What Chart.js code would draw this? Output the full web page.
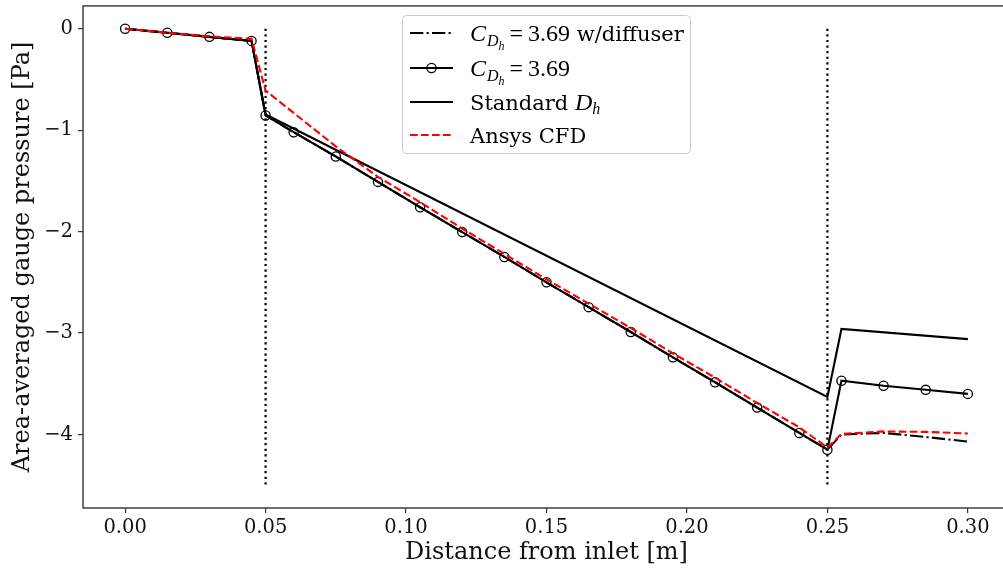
<!DOCTYPE html>
<html>
<head>
<meta charset="utf-8">
<script src="https://cdn.jsdelivr.net/npm/chart.js@4/dist/chart.umd.min.js"></script>
<style>
  html,body{margin:0;padding:0;background:#fff;overflow:hidden;width:1003px;height:571px;}
  #wrap{position:relative;width:1020px;height:571px;}
</style>
</head>
<body>
<div id="wrap"><canvas id="c" width="1020" height="571"></canvas></div>
<script>
/* ---------- data ---------- */
const xGrid   = [0,0.015,0.03,0.045,0.05,0.06,0.075,0.09,0.105,0.12,0.135,0.15,0.165,0.18,0.195,0.21,0.225,0.24,0.25,0.255,0.27,0.285,0.30];
const yCirc   = [0,-0.04,-0.08,-0.12,-0.855,-1.02,-1.26,-1.51,-1.76,-2.005,-2.25,-2.50,-2.745,-2.99,-3.24,-3.485,-3.735,-3.985,-4.15,-3.47,-3.52,-3.56,-3.60];
const yDiff   = [0,-0.04,-0.08,-0.12,-0.855,-1.02,-1.26,-1.51,-1.76,-2.005,-2.25,-2.50,-2.745,-2.99,-3.24,-3.485,-3.735,-3.985,-4.15,-4.00,-3.985,-4.025,-4.07];

const xStd    = [0,0.015,0.03,0.045,0.05,0.25,0.255,0.30];
const yStd    = [0,-0.04,-0.08,-0.12,-0.845,-3.63,-2.96,-3.06];

const xCfd    = [0,0.015,0.03,0.045,0.05,0.075,0.09,0.105,0.12,0.135,0.15,0.165,0.18,0.195,0.21,0.225,0.24,0.25,0.255,0.27,0.285,0.30];
const yCfd    = [0,-0.04,-0.075,-0.10,-0.61,-1.16,-1.46,-1.71,-1.97,-2.22,-2.47,-2.71,-2.95,-3.20,-3.44,-3.69,-3.93,-4.13,-3.995,-3.97,-3.975,-3.99];

const vlineX  = [0.05, 0.25];
const vlineY  = [0, -4.5];

const xTicks  = [0,0.05,0.10,0.15,0.20,0.25,0.30];
const yTicks  = [0,-1,-2,-3,-4];

const SERIF = "'DejaVu Serif', serif";
const pts = (xs,ys) => xs.map((x,i)=>({x:x,y:ys[i]}));
const lw = 2.1;

/* ---------- datasets ---------- */
const datasets = [
  {label:"CFD", data:pts(xCfd,yCfd), borderColor:"#ff0000", borderWidth:lw, borderDash:[7.7,3.3], pointRadius:0, order:0},
  {label:"Std", data:pts(xStd,yStd), borderColor:"#000", borderWidth:lw, pointRadius:0, order:1},
  {label:"Circ", data:pts(xGrid,yCirc), borderColor:"#000", borderWidth:lw, pointRadius:4.6,
   pointBorderColor:"#000", pointBackgroundColor:"rgba(0,0,0,0)", pointBorderWidth:1.3, order:2},
  {label:"Diff", data:pts(xGrid,yDiff), borderColor:"#000", borderWidth:lw, borderDash:[13.3,3.3,2.1,3.3], pointRadius:0, order:3}
];
vlineX.forEach(x=>{
  datasets.push({label:"v", data:vlineY.map(y=>({x:x,y:y})), borderColor:"#000", borderWidth:2.2, borderDash:[2.2,3.4], pointRadius:0, order:10});
});

/* ---------- frame + legend plugin ---------- */
const frame = {
  id:"frame",
  afterDatasetsDraw(chart){
    const {ctx, chartArea:a} = chart;
    ctx.save();
    ctx.strokeStyle = "#333";
    ctx.lineWidth = 1.4;
    ctx.strokeRect(a.left, a.top, a.right-a.left, a.bottom-a.top);

    // legend box
    const bx=402.5, by=15.5, bw=288, bh=138;
    ctx.beginPath();
    ctx.roundRect(bx,by,bw,bh,4);
    ctx.fillStyle="rgba(255,255,255,0.85)";
    ctx.fill();
    ctx.strokeStyle="#cccccc";
    ctx.lineWidth=1;
    ctx.stroke();

    const x0=410, x1=453, tx=470;
    const rows=[33,68,102,135];
    ctx.lineWidth=lw;
    // dash-dot
    ctx.strokeStyle="#000"; ctx.setLineDash([13.3,3.3,2.1,3.3]);
    ctx.beginPath(); ctx.moveTo(x0,rows[0]); ctx.lineTo(x1,rows[0]); ctx.stroke();
    // circle line
    ctx.setLineDash([]);
    ctx.beginPath(); ctx.moveTo(x0,rows[1]); ctx.lineTo(x1,rows[1]); ctx.stroke();
    ctx.lineWidth=1.3;
    ctx.beginPath(); ctx.arc((x0+x1)/2,rows[1],4.6,0,Math.PI*2); ctx.stroke();
    // solid
    ctx.lineWidth=lw;
    ctx.beginPath(); ctx.moveTo(x0,rows[2]); ctx.lineTo(x1,rows[2]); ctx.stroke();
    // red dashed
    ctx.strokeStyle="#ff0000"; ctx.setLineDash([7.7,3.3]);
    ctx.beginPath(); ctx.moveTo(x0,rows[3]); ctx.lineTo(x1,rows[3]); ctx.stroke();
    ctx.setLineDash([]);

    // texts
    ctx.fillStyle="#000";
    ctx.textBaseline="alphabetic";
    const MATH="'Liberation Serif', serif";
    function cd(x,base){
      ctx.font="italic 24px "+MATH; ctx.fillText("C",x,base); x+=ctx.measureText("C").width+1;
      ctx.font="italic 16px "+MATH; ctx.fillText("D",x,base+5); x+=ctx.measureText("D").width;
      ctx.font="italic 12px "+MATH; ctx.fillText("h",x,base+9); x+=ctx.measureText("h").width+5;
      ctx.font="24px "+MATH; ctx.fillText("=",x,base); x+=ctx.measureText("=").width+5;
      ctx.fillText("3.69",x,base); x+=ctx.measureText("3.69").width;
      return x;
    }
    let e=cd(tx,rows[0]+8);
    ctx.font="21px "+SERIF; ctx.fillText(" w/diffuser",e,rows[0]+8);
    cd(tx,rows[1]+8);
    ctx.font="21px "+SERIF; ctx.fillText("Standard ",tx,rows[2]+8);
    let sx=tx+ctx.measureText("Standard ").width;
    ctx.font="italic 24px "+MATH; ctx.fillText("D",sx,rows[2]+8); sx+=ctx.measureText("D").width;
    ctx.font="italic 16px "+MATH; ctx.fillText("h",sx,rows[2]+12);
    ctx.font="21px "+SERIF; ctx.fillText("Ansys CFD",tx,rows[3]+8);
    ctx.restore();
  }
};

const minus = v => (v<0 ? "\u2212"+Math.abs(v) : String(v));

new Chart(document.getElementById("c"),{
  type:"scatter",
  data:{datasets:datasets},
  options:{
    responsive:false, animation:false,
    datasets:{scatter:{showLine:true, fill:false, tension:0}},
    layout:{padding:{top:5,right:10,left:0,bottom:0}},
    plugins:{legend:{display:false},tooltip:{enabled:false}},
    scales:{
      x:{type:"linear", min:-0.015, max:0.315,
        afterBuildTicks:s=>{s.ticks=xTicks.map(v=>({value:v}));},
        afterFit:s=>{s.height=63; s.paddingLeft=0; s.paddingRight=0;},
        grid:{display:true,drawOnChartArea:false,drawTicks:true,tickLength:5,color:"#333",lineWidth:1.2},
        border:{display:false},
        ticks:{color:"#111",font:{family:SERIF,size:19.5},padding:3,callback:v=>v.toFixed(2),maxRotation:0},
        title:{display:true,text:"Distance from inlet [m]",color:"#111",font:{family:SERIF,size:24},padding:{top:0,bottom:4}}
      },
      y:{type:"linear", min:-4.725, max:0.225,
        afterBuildTicks:s=>{s.ticks=yTicks.map(v=>({value:v}));},
        afterFit:s=>{s.width=83; s.paddingTop=0; s.paddingBottom=0;},
        grid:{display:true,drawOnChartArea:false,drawTicks:true,tickLength:5,color:"#333",lineWidth:1.2},
        border:{display:false},
        ticks:{color:"#111",font:{family:SERIF,size:19.5},padding:5,callback:v=>minus(v)},
        title:{display:true,text:"Area-averaged gauge pressure [Pa]",color:"#111",font:{family:SERIF,size:24},padding:{top:8,bottom:0}}
      }
    }
  },
  plugins:[frame]
});
</script>
</body>
</html>
